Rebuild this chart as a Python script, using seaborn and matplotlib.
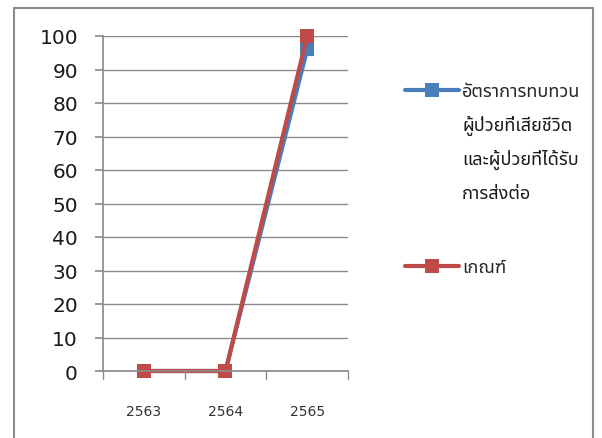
import matplotlib
matplotlib.use("Agg")
import matplotlib.pyplot as plt
import seaborn as sns
import pandas as pd
from matplotlib.patches import Rectangle
from matplotlib.lines import Line2D

years = ["2563", "2564", "2565"]
rate_values = [0, 0, 96]
criteria_values = [0, 0, 100]
series_names = ["อัตราการทบทวน\nผู้ป่วยที่เสียชีวิต\nและผู้ป่วยที่ได้รับ\nการส่งต่อ", "เกณฑ์"]
yticks = [0, 10, 20, 30, 40, 50, 60, 70, 80, 90, 100]
colors = ["#4A7EBB", "#BE4B48"]

sns.set_theme(style="white")
plt.rcParams['font.family'] = ['Noto Sans Thai', 'Tahoma', 'Leelawadee UI', 'DejaVu Sans']

df = pd.DataFrame({
    "year": years * 2,
    "value": rate_values + criteria_values,
    "series": [series_names[0]] * 3 + [series_names[1]] * 3,
})

W, H = 602, 439
fig = plt.figure(figsize=(W / 100, H / 100), dpi=100)
ax = fig.add_axes([103 / W, 1 - 372 / H, (348 - 103) / W, (372 - 37) / H])

sns.lineplot(data=df, x="year", y="value", hue="series", ax=ax,
             palette=colors, marker="s", markersize=10.5,
             markeredgewidth=0, linewidth=3, legend=False)
for ln in ax.lines:
    ln.set_clip_on(False)

ax.set_xlim(-0.5, 2.5)
ax.set_ylim(0, 100)
ax.set_yticks(yticks)
ax.set_yticklabels([str(v) for v in yticks], fontsize=14.5, family=['DejaVu Sans'], color='#1a1a1a')
ax.set_xticks([0, 1, 2])
ax.set_xticklabels(years, fontsize=10, family=['DejaVu Sans'], color='#333333')
ax.set_xlabel("")
ax.set_ylabel("")
ax.yaxis.grid(True, color='#8c8c8c', linewidth=1)
ax.set_axisbelow(True)
for s in ['top', 'right']:
    ax.spines[s].set_visible(False)
ax.spines['left'].set_color('#8c8c8c')
ax.spines['bottom'].set_color('#8c8c8c')
ax.tick_params(axis='y', length=6, color='#8c8c8c', left=True, pad=12)
ax.tick_params(axis='x', length=0, pad=24)
for xp in [-0.5, 0.5, 1.5, 2.5]:
    ax.plot([xp, xp], [0, -2.5], color='#8c8c8c', lw=1, clip_on=False)

# legend entries: handle + first label line, extra lines below
legend_y = [92, 268]
for i, (name, col) in enumerate(zip(series_names, colors)):
    lines = name.split("\n")
    h = Line2D([], [], color=col, lw=3, marker='s', markersize=10, markeredgewidth=0)
    leg = fig.legend([h], [lines[0]], loc='center left',
                     bbox_to_anchor=(405 / W, 1 - legend_y[i] / H),
                     frameon=False, fontsize=13, handlelength=3.0,
                     handletextpad=0.15, borderpad=0, borderaxespad=0)
    for k, extra in enumerate(lines[1:], start=1):
        fig.text(462 / W, 1 - (legend_y[i] + 34 * k) / H, extra,
                 fontsize=13, va='center', ha='left', color='#1a1a1a')

fig.patches.append(Rectangle((14 / W, -0.1), (593 - 14) / W, 1.1 - 9 / H,
                             transform=fig.transFigure, fill=False,
                             edgecolor='#8c8c8c', linewidth=1.5))

fig.savefig("out.png", dpi=100)
